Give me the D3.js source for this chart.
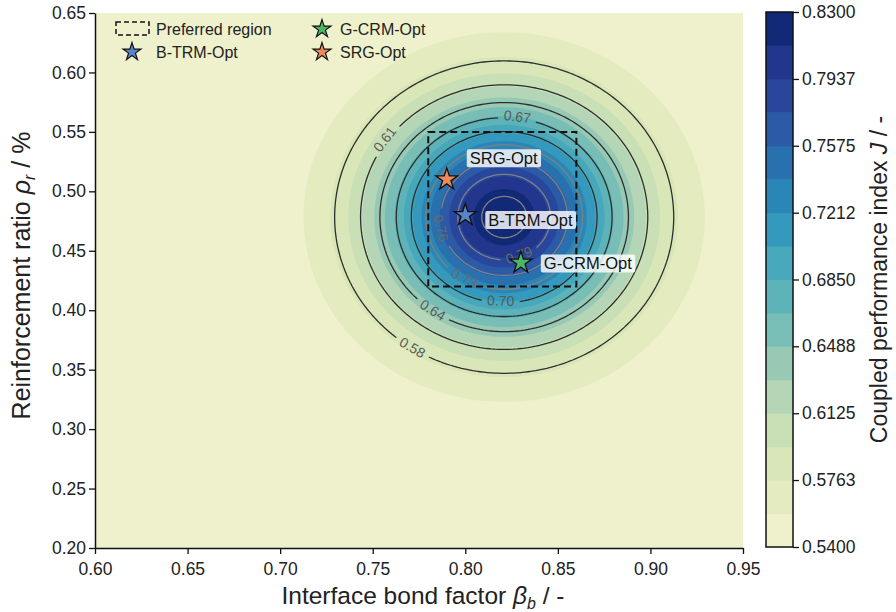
<!DOCTYPE html>
<html>
<head>
<meta charset="utf-8">
<script src="https://cdn.jsdelivr.net/npm/d3@7"></script>
<style>
  html, body { margin: 0; padding: 0; background: #fff; }
  #chart { width: 896px; height: 612px; }
  text { font-family: "Liberation Sans", Arial, sans-serif; }
</style>
</head>
<body>
<div id="chart"></div>
<script>
// Surface of the coupled performance index J over (beta_b, rho_r)
const J_RANGE = [0.54, 0.83];
const PEAK = [0.82, 0.48];          // beta_b, rho_r of the maximum
const SPREAD = [0.046, 0.066];      // width of the response in each direction

// filled bands (16) and line levels
const FILL_LEVELS = d3.range(17).map(i => 0.54 + i * (0.83 - 0.54) / 16);
const LINE_LEVELS = [0.58, 0.61, 0.64, 0.67, 0.70, 0.73, 0.76, 0.79, 0.82];
const LABEL_ANGLES = { 0.58: 122, 0.61: 215, 0.64: 124, 0.67: 278, 0.70: 91, 0.73: 119, 0.76: 167, 0.79: 69 };

const X_TICKS = [0.60, 0.65, 0.70, 0.75, 0.80, 0.85, 0.90, 0.95];
const Y_TICKS = [0.20, 0.25, 0.30, 0.35, 0.40, 0.45, 0.50, 0.55, 0.60, 0.65];
const CB_TICKS = [0.5400, 0.5763, 0.6125, 0.6488, 0.6850, 0.7212, 0.7575, 0.7937, 0.8300];

// optimum designs
const OPT_NAMES = ['B-TRM-Opt', 'G-CRM-Opt', 'SRG-Opt'];
const OPT_BETA = [0.80, 0.83, 0.79];
const OPT_RHO = [0.48, 0.44, 0.51];
const OPT_COLORS = ['#5b84c8', '#4cb866', '#ec8a5c'];
const OPT_LABEL_DY = [5, 1, -21];

// preferred region [beta0, beta1, rho0, rho1]
const REGION = [0.78, 0.86, 0.42, 0.55];

const W = 896, H = 612;
const M = { left: 95, top: 13, right: 743, bottom: 548 };
const FONT = '"Liberation Sans", Arial, sans-serif';

const svg = d3.select('#chart').append('svg').attr('width', W).attr('height', H);

const x = d3.scaleLinear().domain([0.60, 0.95]).range([M.left, M.right]);
const y = d3.scaleLinear().domain([0.20, 0.65]).range([M.bottom, M.top]);

// YlGnBu, toned down a little like the printed figure
const bandColor = k => {
  const c = d3.hsl(d3.interpolateYlGnBu((k + 0.5) / 16));
  c.s *= Math.min(1, 0.55 + 0.6 * (1 - c.l));
  c.l = c.l * 0.9 + 0.06;
  return c.formatHex();
};

const J = (b, r) => {
  const u = (b - PEAK[0]) / SPREAD[0], v = (r - PEAK[1]) / SPREAD[1];
  return J_RANGE[0] + (J_RANGE[1] - J_RANGE[0]) * Math.exp(-(u * u + v * v) / 2);
};

// grid over the plot area
const nx = 176, ny = 136;
const gx = i => 0.60 + (i - 0.5) * (0.35 / (nx - 1));
const gy = j => 0.65 - (j - 0.5) * (0.45 / (ny - 1));
const values = new Array(nx * ny);
for (let j = 0; j < ny; j++) {
  for (let i = 0; i < nx; i++) values[i + j * nx] = J(gx(i), gy(j));
}

const proj = d3.geoTransform({
  point: function (px, py) { this.stream.point(x(gx(px)), y(gy(py))); }
});
const path = d3.geoPath(proj);

const defs = svg.append('defs');
defs.append('clipPath').attr('id', 'plotclip')
  .append('rect').attr('x', M.left).attr('y', M.top)
  .attr('width', M.right - M.left).attr('height', M.bottom - M.top);

const plot = svg.append('g').attr('clip-path', 'url(#plotclip)');

plot.append('rect').attr('x', M.left).attr('y', M.top)
  .attr('width', M.right - M.left).attr('height', M.bottom - M.top)
  .attr('fill', bandColor(0));

const fills = d3.contours().size([nx, ny]).thresholds(FILL_LEVELS.slice(1, 16))(values);
fills.forEach((c, k) => {
  plot.append('path').attr('d', path(c)).attr('fill', bandColor(k + 1));
});

// contour labels: position on each ring, with a gap cut into the line
const ax = (x(SPREAD[0]) - x(0)), ay = (y(0) - y(SPREAD[1]));
const cxp = x(PEAK[0]), cyp = y(PEAK[1]);
const labels = [];
LINE_LEVELS.forEach(L => {
  const a = LABEL_ANGLES[L];
  if (a == null) return;
  const t = a * Math.PI / 180;
  const r = Math.sqrt(-2 * Math.log((L - J_RANGE[0]) / (J_RANGE[1] - J_RANGE[0])));
  const px = cxp + r * ax * Math.cos(t), py = cyp + r * ay * Math.sin(t);
  let rot = Math.atan2(r * ay * Math.cos(t), -r * ax * Math.sin(t)) * 180 / Math.PI;
  if (rot > 90) rot -= 180;
  if (rot < -90) rot += 180;
  labels.push({ L, px, py, rot });
});

const mask = defs.append('mask').attr('id', 'linemask').attr('maskUnits', 'userSpaceOnUse')
  .attr('x', 0).attr('y', 0).attr('width', W).attr('height', H);
mask.append('rect').attr('width', W).attr('height', H).attr('fill', '#fff');
labels.forEach(d => {
  mask.append('rect').attr('x', -19).attr('y', -7).attr('width', 38).attr('height', 14)
    .attr('transform', `translate(${d.px},${d.py}) rotate(${d.rot})`).attr('fill', '#000');
});

const lineColor = L => L <= 0.705 ? '#2e2e2e' : '#808080';
const lines = d3.contours().size([nx, ny]).thresholds(LINE_LEVELS)(values);
const lineG = plot.append('g').attr('mask', 'url(#linemask)');
lines.forEach((c, k) => {
  lineG.append('path').attr('d', path(c)).attr('fill', 'none')
    .attr('stroke', lineColor(LINE_LEVELS[k])).attr('stroke-width', 1.3);
});

labels.forEach(d => {
  plot.append('text').attr('transform', `translate(${d.px},${d.py}) rotate(${d.rot})`)
    .attr('text-anchor', 'middle').attr('dy', '0.35em')
    .style('font-size', '14px').style('fill', d.L <= 0.705 ? '#5a5a5a' : '#6a6a6a')
    .text(d3.format('.2f')(d.L));
});

// preferred region
plot.append('rect')
  .attr('x', x(REGION[0])).attr('y', y(REGION[3]))
  .attr('width', x(REGION[1]) - x(REGION[0])).attr('height', y(REGION[2]) - y(REGION[3]))
  .attr('fill', 'none').attr('stroke', '#111').attr('stroke-width', 2)
  .attr('stroke-dasharray', '7,4');

// optimum stars + labels
const star = d3.symbol().type(d3.symbolStar);
OPT_NAMES.forEach((name, i) => {
  const px = x(OPT_BETA[i]), py = y(OPT_RHO[i]);
  plot.append('path').attr('d', star.size(150)()).attr('transform', `translate(${px},${py})`)
    .attr('fill', OPT_COLORS[i]).attr('stroke', '#111').attr('stroke-width', 1.3);
  const g = plot.append('g').attr('transform', `translate(${px + 23},${py + OPT_LABEL_DY[i]})`);
  const t = g.append('text').attr('dy', '0.35em').style('font-size', '16.5px').style('fill', '#111').text(name);
  const bb = t.node().getBBox();
  g.insert('rect', 'text').attr('x', bb.x - 3).attr('y', bb.y)
    .attr('width', bb.width + 6).attr('height', bb.height).attr('rx', 2)
    .attr('fill', '#fff').attr('fill-opacity', 0.82);
});

// axes
const xAxis = svg.append('g').attr('transform', `translate(0,${M.bottom})`)
  .call(d3.axisBottom(x).tickValues(X_TICKS).tickFormat(d3.format('.2f')).tickSize(6).tickSizeOuter(0));
const yAxis = svg.append('g').attr('transform', `translate(${M.left},0)`)
  .call(d3.axisLeft(y).tickValues(Y_TICKS).tickFormat(d3.format('.2f')).tickSize(6).tickSizeOuter(0));
[xAxis, yAxis].forEach(a => {
  a.select('.domain').attr('stroke', '#111').attr('stroke-width', 1.5);
  a.selectAll('.tick line').attr('stroke', '#111').attr('stroke-width', 1.3);
  a.selectAll('.tick text').style('font-size', '17.5px').style('fill', '#222').style('font-family', FONT);
});
xAxis.selectAll('.tick text').attr('dy', '1.05em');

svg.append('text').attr('x', (M.left + M.right) / 2 + 4).attr('y', 604).attr('text-anchor', 'middle')
  .style('font-size', '24.5px').style('fill', '#222')
  .html('Interface bond factor <tspan font-style="italic">β</tspan><tspan font-style="italic" font-size="16px" dy="5">b</tspan><tspan dy="-5"> / -</tspan>');
svg.append('text').attr('transform', `translate(30,${(M.top + M.bottom) / 2 - 5}) rotate(-90)`)
  .attr('text-anchor', 'middle').style('font-size', '25px').style('fill', '#222')
  .html('Reinforcement ratio <tspan font-style="italic">ρ</tspan><tspan font-style="italic" font-size="16px" dy="5">r</tspan><tspan dy="-5"> / %</tspan>');

// legend
const lg = svg.append('g');
lg.append('rect').attr('x', 116).attr('y', 22).attr('width', 33).attr('height', 13)
  .attr('fill', 'none').attr('stroke', '#111').attr('stroke-width', 1.5).attr('stroke-dasharray', '5,3');
const legendItems = [
  { kind: 'text', name: 'Preferred region', x: 156, y: 29 },
  { kind: 'star', i: 0, sx: 132, x: 156, y: 52 },
  { kind: 'star', i: 1, sx: 322, x: 340, y: 29 },
  { kind: 'star', i: 2, sx: 322, x: 340, y: 52 }
];
legendItems.forEach(d => {
  if (d.kind === 'star') {
    lg.append('path').attr('d', star.size(100)()).attr('transform', `translate(${d.sx},${d.y})`)
      .attr('fill', OPT_COLORS[d.i]).attr('stroke', '#111').attr('stroke-width', 1.2);
  }
  lg.append('text').attr('x', d.x).attr('y', d.y).attr('dy', '0.35em')
    .style('font-size', '16px').style('fill', '#222')
    .text(d.kind === 'star' ? OPT_NAMES[d.i] : d.name);
});

// colorbar
const CB = { x: 766, w: 27, top: 12, bottom: 547 };
const cy = d3.scaleLinear().domain([0.54, 0.83]).range([CB.bottom, CB.top]);
d3.range(16).forEach(k => {
  svg.append('rect').attr('x', CB.x).attr('y', cy(FILL_LEVELS[k + 1]))
    .attr('width', CB.w).attr('height', cy(FILL_LEVELS[k]) - cy(FILL_LEVELS[k + 1]) + 0.5)
    .attr('fill', bandColor(k));
});
svg.append('rect').attr('x', CB.x).attr('y', CB.top).attr('width', CB.w).attr('height', CB.bottom - CB.top)
  .attr('fill', 'none').attr('stroke', '#111').attr('stroke-width', 1.5);
const cbAxis = svg.append('g').attr('transform', `translate(${CB.x + CB.w},0)`)
  .call(d3.axisRight(cy).tickValues(CB_TICKS).tickFormat(d3.format('.4f')).tickSize(6).tickSizeOuter(0));
cbAxis.select('.domain').remove();
cbAxis.selectAll('.tick line').attr('stroke', '#111').attr('stroke-width', 1.3);
cbAxis.selectAll('.tick text').style('font-size', '17.5px').style('fill', '#222').style('font-family', FONT);

svg.append('text').attr('transform', `translate(887,${(CB.top + CB.bottom) / 2}) rotate(-90)`)
  .attr('text-anchor', 'middle').style('font-size', '23px').style('fill', '#222')
  .html('Coupled performance index  <tspan font-style="italic">J</tspan> / -');
</script>
</body>
</html>
